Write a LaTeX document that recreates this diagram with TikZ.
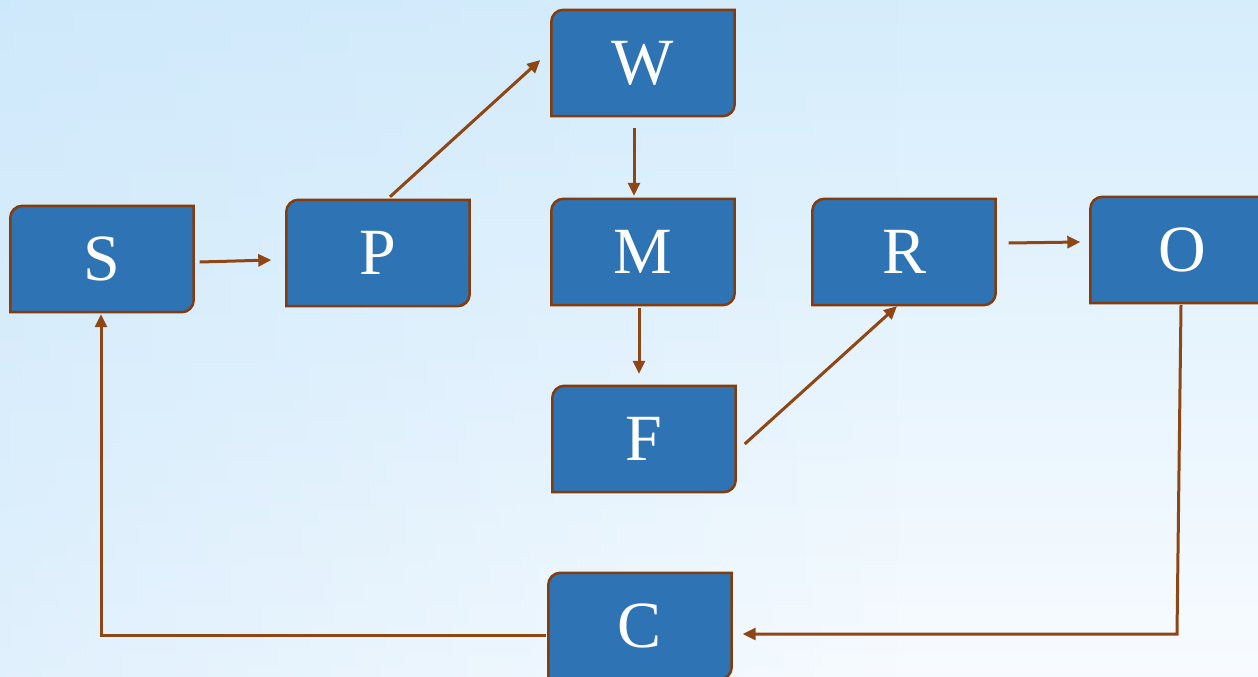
\documentclass[tikz,border=0pt]{standalone}
\usepackage{fontspec}
\setmainfont{Liberation Serif}
\newfontfamily\cardfont{Liberation Serif}
\usetikzlibrary{arrows.meta,fadings}
\definecolor{boxblue}{HTML}{2E74B5}
\definecolor{boxedge}{HTML}{843C0C}
\definecolor{arrowbrown}{HTML}{8E4614}
\definecolor{bgTop}{HTML}{D6EDFC}
\definecolor{bgMid}{HTML}{EBF6FE}
\definecolor{bgBot}{HTML}{F7FBFF}
\definecolor{bgLeft}{HTML}{C6E4FA}
\pgfdeclarelayer{bglayer}
\pgfdeclarelayer{boxlayer}
\pgfsetlayers{bglayer,boxlayer,main}
\tikzset{
  card/.style={minimum width=183pt,minimum height=106pt,inner sep=0pt,text=white,font=\cardfont\fontsize{66}{66}\selectfont},
  cardshape/.style={fill=boxblue,draw=boxedge,line width=2.5pt},
  arr/.style={draw=arrowbrown,line width=3pt,-{Triangle[length=13pt,width=12pt]}},
}
\newcommand\mycard[4]{%
  \node[card] (#1) at (#2,#3) {#4};
  \begin{pgfonlayer}{boxlayer}
  \path[cardshape] ([xshift=12pt]#1.north west) -- (#1.north east) -- ([yshift=12pt]#1.south east)
     arc[start angle=0,end angle=-90,radius=12pt] -- (#1.south west) -- ([yshift=-12pt]#1.north west)
     arc[start angle=180,end angle=90,radius=12pt] -- cycle;
  \end{pgfonlayer}}
\begin{document}
\begin{tikzpicture}[x=1pt,y=-1pt]
\useasboundingbox (0,0) rectangle (1258,677);
\clip (0,0) rectangle (1258,677);
\begin{pgfonlayer}{bglayer}
\shade[top color=bgTop,middle color=bgMid,bottom color=bgBot] (0,0) rectangle (1258,677);
\fill[bgLeft,path fading=east,opacity=0.5] (-100,0) rectangle (900,677);
\end{pgfonlayer}
\mycard{S}{102}{259}{S}
\mycard{P}{378}{253}{P}
\mycard{W}{643}{63}{W}
\mycard{M}{643}{252}{M}
\mycard{F}{644}{439}{F}
\mycard{R}{904}{252}{R}
\mycard{O}{1182}{250}{O}
\mycard{C}{640}{626}{C}
\coordinate (oc) at (1177,634);
\coordinate (cs) at (101,635);
\draw[arr] ([xshift=6pt,yshift=-3pt]S.east) -- ([xshift=-15pt,yshift=-7pt]P.west);
\draw[arr] ([xshift=12pt,yshift=3pt]P.north) -- ([xshift=-11pt,yshift=3pt]W.west);
\draw[arr] ([xshift=-9pt,yshift=-12pt]W.south) -- ([xshift=-9pt,yshift=3pt]M.north);
\draw[arr] ([xshift=-4pt,yshift=-3pt]M.south) -- ([xshift=-5pt,yshift=12pt]F.north);
\draw[arr] ([xshift=9pt,yshift=-5pt]F.east) -- ([xshift=-7pt,yshift=-1pt]R.south);
\draw[arr] ([xshift=13pt,yshift=9pt]R.east) -- ([xshift=-10pt,yshift=8pt]O.west);
\draw[arr] ([xshift=-1pt,yshift=-2pt]O.south) -- (oc) -- ([xshift=11pt,yshift=-8pt]C.east);
\draw[arr] ([xshift=-2pt,yshift=-9pt]C.west) -- (cs) -- ([xshift=-1pt,yshift=-2pt]S.south);
\end{tikzpicture}
\end{document}
